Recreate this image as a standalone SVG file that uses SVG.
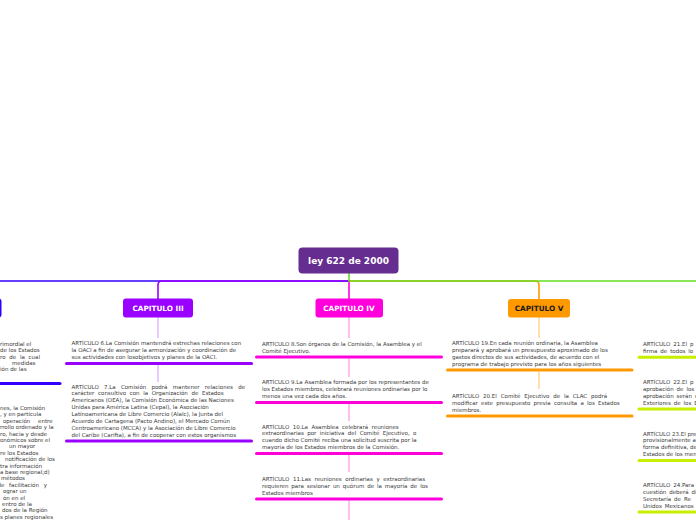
<svg xmlns="http://www.w3.org/2000/svg" width="696" height="520" viewBox="0 0 696 520">
<style>
.t{font-family:"DejaVu Sans",Verdana,sans-serif;font-size:5.5px;fill:#3a3a3a}
.cap{font-family:"DejaVu Sans",Verdana,sans-serif;font-size:7.3px;font-weight:bold;fill:#fff;text-anchor:middle}
.bar{stroke-width:3;stroke-linecap:round;fill:none}
.ln{fill:none;stroke-width:1.6}
.sub{fill:none;stroke-width:1.3}
</style>
<rect width="696" height="520" fill="#fff"/>
<g id="connectors">
<path class="ln" stroke="#3300ff" d="M349,281 H-10"/>
<path class="ln" stroke="#ff9900" d="M349,281 H535 Q539,281 539,285 V299"/>
<path class="ln" stroke="#9900ff" d="M349,281 H162 Q158,281 158,285 V299"/>
<path class="ln" stroke="#ff00dd" d="M349,281 V299"/>
<path class="ln" stroke="#66dd22" d="M349,273 V281 H700"/>
<path class="sub" stroke="#dcb0ff" d="M158,317 V338 M158,365 V382"/>
<path class="sub" stroke="#ff9bef" d="M349,317 V338 M349,358.5 V377 M349,404 V421 M349,455 V472 M349,500.5 V520"/>
<path class="sub" stroke="#ffcf8a" d="M539,317 V338 M539,371.5 V389"/>
</g>
<g id="root">
<rect x="298.5" y="247.5" width="100" height="26" rx="4" fill="#662d91"/>
<text x="348.5" y="264" font-family="DejaVu Sans, sans-serif" font-size="9" font-weight="bold" fill="#fff" text-anchor="middle">ley 622 de 2000</text>
</g>
<g id="cap2"><rect x="-70" y="298.5" width="71.5" height="19" rx="3" fill="#3300ff"/></g>
<g id="cap3"><rect x="123" y="298.5" width="70" height="19" rx="3" fill="#9900ff"/><text class="cap" x="158" y="310.7">CAPITULO III</text></g>
<g id="cap4"><rect x="315.5" y="298.5" width="67.5" height="19" rx="3" fill="#ff00dd"/><text class="cap" x="349" y="310.7">CAPITULO IV</text></g>
<g id="cap5"><rect x="508" y="299" width="62" height="18.5" rx="3" fill="#ff9900"/><text class="cap" x="539" y="310.9" style="fill:#1a1a1a">CAPITULO V</text></g>

<g id="art2a">
<text class="t"><tspan x="0" y="345.7">rimordial el</tspan><tspan x="0" y="352.1">de los Estados</tspan><tspan x="0" y="358.5" word-spacing="2">ro de la cual</tspan><tspan x="12" y="364.9">medidas</tspan><tspan x="0" y="371.3">ión de las</tspan></text>
<line class="bar" stroke="#3300ff" x1="-10" y1="383.5" x2="60" y2="383.5"/>
</g>
<g id="art2b">
<text class="t"><tspan x="0" y="410">nes, la Comisión</tspan><tspan x="0" y="416.4">, y en particula</tspan><tspan x="3" y="422.8" word-spacing="6">operación entre</tspan><tspan x="0" y="429.2">rrollo ordenado y la</tspan><tspan x="0" y="435.6">ro, hacia y desde</tspan><tspan x="0" y="442">onómicos sobre el</tspan><tspan x="9" y="448.4">un mayor</tspan><tspan x="0" y="454.8">re los Estados</tspan><tspan x="5" y="461.2">notificación de los</tspan><tspan x="0" y="467.6">tra información</tspan><tspan x="0" y="474">a base regional;d)</tspan><tspan x="1" y="480.4">métodos</tspan><tspan x="-2.5" y="486.8" word-spacing="3">de facilitación y</tspan><tspan x="3" y="493.2">ograr un</tspan><tspan x="3" y="499.6">ón en el</tspan><tspan x="2" y="506">entro de la</tspan><tspan x="2" y="512.4">dos de la Región</tspan><tspan x="0" y="518.8">s planes regionales</tspan></text>
</g>

<g id="art6">
<text class="t"><tspan x="71.5" y="345.3">ARTÍCULO 6.La Comisión mantendrá estrechas relaciones con</tspan><tspan x="71.5" y="352.2">la OACI a fin de asegurar la armonización y coordinación de</tspan><tspan x="71.5" y="359">sus actividades con losobjetivos y planes de la OACI.</tspan></text>
<line class="bar" stroke="#9900ff" x1="66.5" y1="363.5" x2="251.5" y2="363.5"/>
</g>
<g id="art7">
<text class="t"><tspan x="71.5" y="388.6" word-spacing="3.5">ARTÍCULO 7.La Comisión podrá mantener relaciones de</tspan><tspan x="71.5" y="395.4" word-spacing="1.9">carácter consultivo con la Organización de Estados</tspan><tspan x="71.5" y="402.3">Americanos (OEA), la Comisión Económica de las Naciones</tspan><tspan x="71.5" y="409.1">Unidas para América Latina (Cepal), la Asociación</tspan><tspan x="71.5" y="416">Latinoamericana de Libre Comercio (Alalc), la Junta del</tspan><tspan x="71.5" y="422.8">Acuerdo de Cartagena (Pacto Andino), el Mercado Común</tspan><tspan x="71.5" y="429.7">Centroamericano (MCCA) y la Asociación de Libre Comercio</tspan><tspan x="71.5" y="436.5">del Caribe (Carifta), a fin de cooperar con estos organismos</tspan></text>
<line class="bar" stroke="#9900ff" x1="66.5" y1="441" x2="251.5" y2="441"/>
</g>

<g id="art8">
<text class="t"><tspan x="262" y="345.6">ARTÍCULO 8.Son órganos de la Comisión, la Asamblea y el</tspan><tspan x="262" y="352.5">Comité Ejecutivo.</tspan></text>
<line class="bar" stroke="#ff00dd" x1="256.5" y1="357" x2="441.5" y2="357"/>
</g>
<g id="art9">
<text class="t"><tspan x="262" y="384.3">ARTÍCULO 9.La Asamblea formada por los representantes de</tspan><tspan x="262" y="391.2">los Estados miembros, celebrará reuniones ordinarias por lo</tspan><tspan x="262" y="398">menos una vez cada dos años.</tspan></text>
<line class="bar" stroke="#ff00dd" x1="256.5" y1="402.5" x2="441.5" y2="402.5"/>
</g>
<g id="art10">
<text class="t"><tspan x="262" y="428.5" word-spacing="1.75">ARTÍCULO 10.La Asamblea celebrará reuniones</tspan><tspan x="262" y="435.4" word-spacing="1.65">extraordinarias por iniciativa del Comité Ejecutivo, o</tspan><tspan x="262" y="442.2">cuando dicho Comité reciba una solicitud suscrita por la</tspan><tspan x="262" y="449">mayoría de los Estados miembros de la Comisión.</tspan></text>
<line class="bar" stroke="#ff00dd" x1="256.5" y1="453.5" x2="441.5" y2="453.5"/>
</g>
<g id="art11">
<text class="t"><tspan x="262" y="480.8" word-spacing="1.9">ARTÍCULO 11.Las reuniones ordinarias y extraordinarias</tspan><tspan x="262" y="487.7" word-spacing="1.2">requieren para sesionar un quórum de la mayoría de los</tspan><tspan x="262" y="494.5">Estados miembros</tspan></text>
<line class="bar" stroke="#ff00dd" x1="256.5" y1="499" x2="441.5" y2="499"/>
</g>

<g id="art19">
<text class="t"><tspan x="452" y="345">ARTÍCULO 19.En cada reunión ordinaria, la Asamblea</tspan><tspan x="452" y="351.9">preparará y aprobará un presupuesto aproximado de los</tspan><tspan x="452" y="358.7">gastos directos de sus actividades, de acuerdo con el</tspan><tspan x="452" y="365.5">programa de trabajo previsto para los años siguientes</tspan></text>
<line class="bar" stroke="#ff9900" x1="447.5" y1="370" x2="632" y2="370"/>
</g>
<g id="art20">
<text class="t"><tspan x="452" y="397.8" word-spacing="2.1">ARTÍCULO 20.El Comité Ejecutivo de la CLAC podrá</tspan><tspan x="452" y="404.7" word-spacing="1.5">modificar este presupuesto previa consulta a los Estados</tspan><tspan x="452" y="411.5">miembros.</tspan></text>
<line class="bar" stroke="#ff9900" x1="447.5" y1="416" x2="632" y2="416"/>
</g>

<g id="art21">
<text class="t" word-spacing="1.2"><tspan x="643" y="346">ARTÍCULO 21.El p</tspan><tspan x="643" y="352.8">firma de todos lo</tspan></text>
<line class="bar" stroke="#c8ee00" x1="639" y1="357.3" x2="700" y2="357.3"/>
</g>
<g id="art22">
<text class="t" word-spacing="1.2"><tspan x="643" y="384">ARTÍCULO 22.El p</tspan><tspan x="643" y="390.9">aprobación de los</tspan><tspan x="643" y="397.7">aprobación serán d</tspan><tspan x="643" y="404.5">Exteriores de los E</tspan></text>
<line class="bar" stroke="#c8ee00" x1="639" y1="409" x2="700" y2="409"/>
</g>
<g id="art23">
<text class="t"><tspan x="643" y="435.5">ARTÍCULO 23.El pre</tspan><tspan x="643" y="442.4">provisionalmente a</tspan><tspan x="643" y="449.2">forma definitiva, de</tspan><tspan x="643" y="456">Estados de los men</tspan></text>
<line class="bar" stroke="#c8ee00" x1="639" y1="460.5" x2="700" y2="460.5"/>
</g>
<g id="art24">
<text class="t" word-spacing="1.2"><tspan x="643" y="487">ARTÍCULO 24.Para</tspan><tspan x="643" y="493.9">cuestión deberá dir</tspan><tspan x="643" y="500.7">Secretaría de Re</tspan><tspan x="643" y="507.5">Unidos Mexicanos</tspan></text>
<line class="bar" stroke="#c8ee00" x1="639" y1="512" x2="700" y2="512"/>
</g>
</svg>
